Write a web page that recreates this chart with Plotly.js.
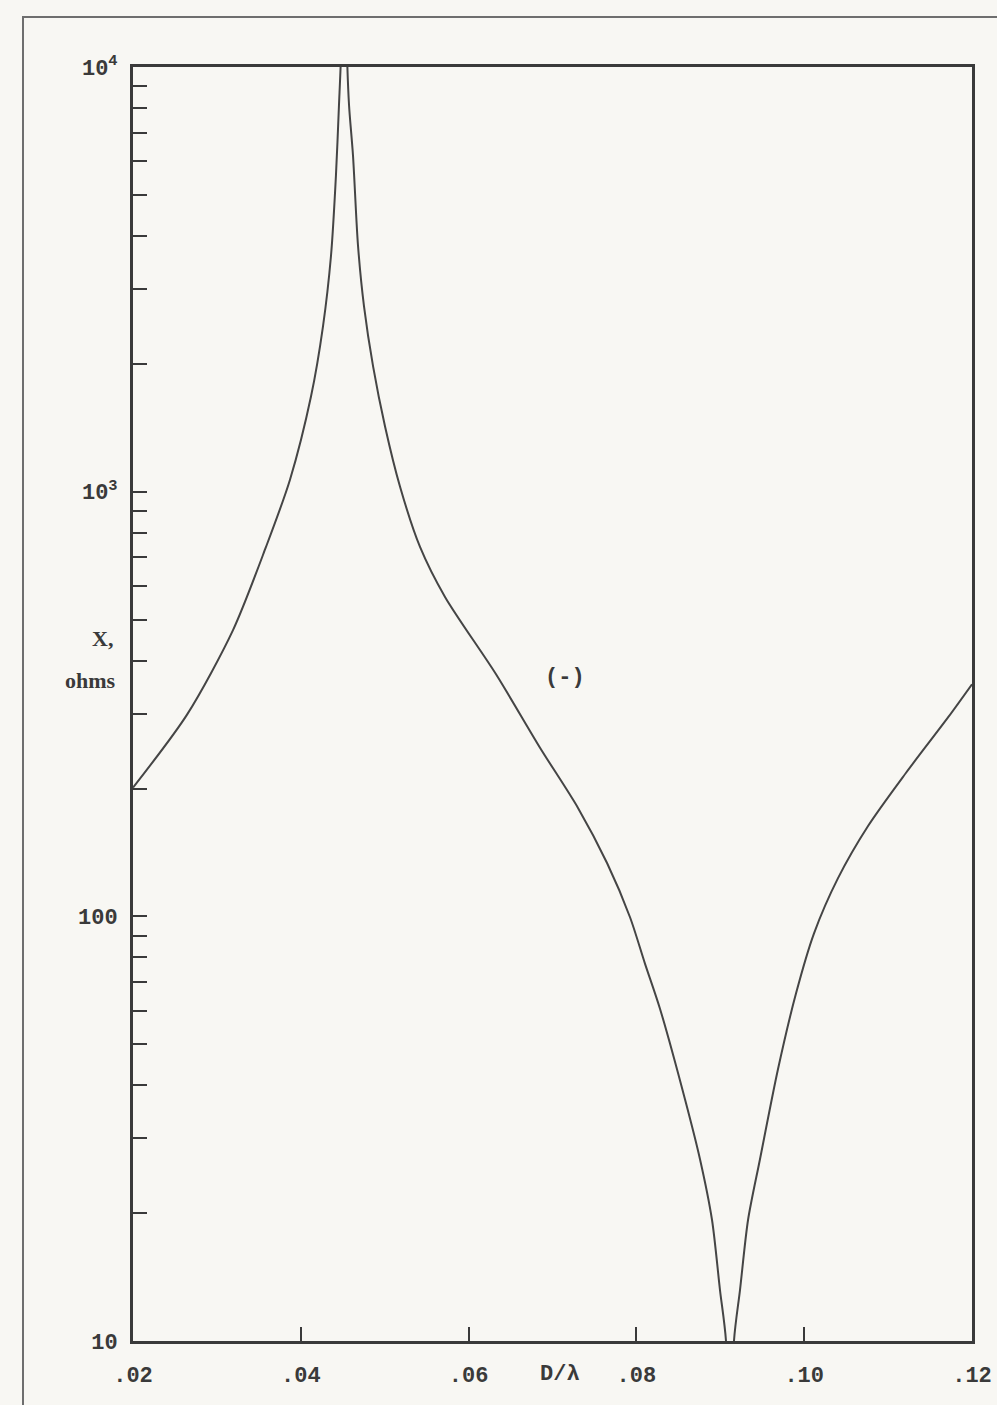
<!DOCTYPE html>
<html>
<head>
<meta charset="utf-8">
<script src="https://cdn.plot.ly/plotly-3.0.1.min.js"></script>
<style>
  html, body { margin: 0; padding: 0; background: #f8f7f3; }
  #chart { width: 997px; height: 1405px; }
</style>
</head>
<body>
<div id="chart"></div>
<script>
// D/lambda values (x) and reactance |X| in ohms (y)
const dOverLambda = [
  0.0200, 0.02644, 0.03192, 0.03585, 0.03871, 0.04122, 0.04265, 0.04360,
  0.04419, 0.04455, 0.04479, 0.04515,
  0.04551, 0.04575, 0.04622, 0.04682, 0.04753, 0.04861, 0.05004, 0.05183, 0.05421,
  0.05719, 0.06327, 0.06851, 0.07304, 0.07650, 0.07924, 0.08102, 0.08281, 0.08579,
  0.08758, 0.08901, 0.08996, 0.09068, 0.09116,
  0.09163, 0.09235, 0.09331, 0.09473, 0.09688, 0.09902, 0.10117, 0.10403, 0.10761,
  0.11214, 0.11714, 0.1200
];
const reactanceOhms = [
  201, 298.5, 472, 741, 1067, 1677, 2455, 3594,
  5556, 8128, 10660, 30000,
  10660, 8128, 6194, 3793, 2735, 1975, 1424, 1027, 741,
  565, 371.5, 249.5, 180, 133.5, 99.5, 77.4, 60.6, 37.1,
  26.8, 19.3, 13.2, 10.0, 4.0,
  10.0, 13.2, 19.3, 26.8, 43.7, 65.8, 91.2, 123, 163.2,
  217.8, 294, 352
];
const xTickVals = [0.02, 0.04, 0.06, 0.08, 0.10, 0.12];
const xTickText = [".02", ".04", ".06", ".08", ".10", ".12"];
const yMajorVals = [10, 100, 1000, 10000];
const yMajorText = ["10", "100", "10<sup>3</sup>", "10<sup>4</sup>"];
const yMinorMultipliers = [2, 3, 4, 5, 6, 7, 8, 9];

// Build y tick arrays (major labelled, minor unlabelled)
const yTickVals = [];
const yTickText = [];
yMajorVals.forEach((v, i) => {
  yTickVals.push(v); yTickText.push(yMajorText[i]);
  if (v < 10000) {
    yMinorMultipliers.forEach(m => { yTickVals.push(v * m); yTickText.push(""); });
  }
});

const ink = "#3a3a3a";
const fontFam = "Liberation Mono, DejaVu Sans Mono, monospace";

const trace = {
  x: dOverLambda,
  y: reactanceOhms,
  type: "scatter",
  mode: "lines",
  line: { color: "#454545", width: 2, shape: "spline", smoothing: 0.8 },
  hoverinfo: "skip"
};

const L = 133, R = 25, T = 67, B = 64;
const W = 997, H = 1405;
const pw = W - L - R, ph = H - T - B;
const px = p => (p - L) / pw;
const py = p => (H - B - p) / ph;

const layout = {
  width: W, height: H,
  margin: { l: L, r: R, t: T, b: B },
  paper_bgcolor: "#f8f7f3",
  plot_bgcolor: "#f8f7f3",
  showlegend: false,
  font: { family: fontFam, color: ink, size: 22 },
  xaxis: {
    range: [0.02, 0.12],
    tickvals: xTickVals,
    ticktext: xTickText,
    ticks: "inside",
    ticklen: 14,
    tickwidth: 2,
    tickcolor: ink,
    showgrid: false,
    zeroline: false,
    showline: true,
    linecolor: ink,
    linewidth: 3,
    mirror: true,
    tickfont: { family: fontFam, size: 22, color: ink, weight: "bold" },
    ticklabelstandoff: 12
  },
  yaxis: {
    type: "log",
    range: [1, 4],
    tickvals: yTickVals,
    ticktext: yTickText,
    ticks: "inside",
    ticklen: 14,
    tickwidth: 2,
    tickcolor: ink,
    showgrid: false,
    zeroline: false,
    showline: true,
    linecolor: ink,
    linewidth: 3,
    mirror: true,
    tickfont: { family: fontFam, size: 22, color: ink, weight: "bold" },
    ticklabelstandoff: 8
  },
  shapes: [
    {
      type: "rect", xref: "paper", yref: "paper",
      x0: px(23), x1: px(1010), y0: py(1420), y1: py(17),
      line: { color: "#6e6e6e", width: 2 }, fillcolor: "rgba(0,0,0,0)",
      layer: "below"
    }
  ],
  annotations: [
    { text: "<b>X,</b>", xref: "paper", yref: "paper", x: px(115), y: py(638),
      xanchor: "right", yanchor: "middle", showarrow: false,
      font: { family: "Liberation Serif, serif", size: 22, color: ink } },
    { text: "<b>ohms</b>", xref: "paper", yref: "paper", x: px(118), y: py(680),
      xanchor: "right", yanchor: "middle", showarrow: false,
      font: { family: "Liberation Serif, serif", size: 22, color: ink } },
    { text: "<b>(-)</b>", xref: "paper", yref: "paper", x: px(565), y: py(677),
      xanchor: "center", yanchor: "middle", showarrow: false,
      font: { family: fontFam, size: 22, color: ink } },
    { text: "<b>D/λ</b>", xref: "paper", yref: "paper", x: px(560), y: py(1374),
      xanchor: "center", yanchor: "middle", showarrow: false,
      font: { family: fontFam, size: 22, color: ink } }
  ]
};

Plotly.newPlot("chart", [trace], layout, { staticPlot: true, displayModeBar: false });
</script>
</body>
</html>
